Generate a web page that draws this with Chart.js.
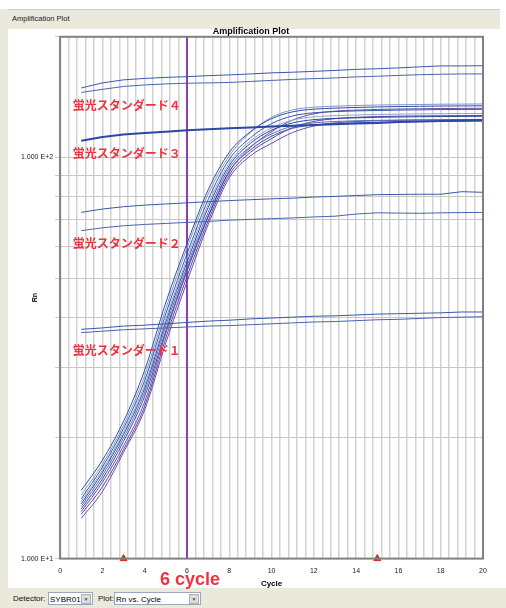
<!DOCTYPE html>
<html>
<head>
<meta charset="utf-8">
<script src="https://cdn.jsdelivr.net/npm/chart.js@4.4.0/dist/chart.umd.min.js"></script>
<style>
  body { margin: 0; width: 506px; height: 608px; position: relative; overflow: hidden; background: #fff;
         font-family: "Liberation Sans", Arial, sans-serif; }
  .beige { position: absolute; background: #ebe8dc; }
  #head { left: 3px; top: 9px; width: 497px; height: 19px; border-top: 1px solid #d0ccc0; }
  #head span { position: absolute; left: 9px; top: 4px; font-size: 7.5px; color: #222; }
  #leftStrip { left: 0; top: 9px; width: 8px; height: 590px; }
  #bottomBar { left: 0; top: 588px; width: 506px; height: 20px; }
  .lbl { position: absolute; top: 6px; font-size: 8px; color: #111; }
  .box { position: absolute; top: 4px; height: 13px; background: #fff; border: 1px solid #9aa8bc; font-size: 8px; line-height: 13px; padding-left: 1px; box-sizing: border-box; }
  .btn { position: absolute; right: 1px; top: 1px; width: 10px; height: 10px; background: #dcdcdc; border: 1px solid #b0b0b0; box-sizing: border-box; font-size: 5px; line-height: 8px; text-align: center; color: #555; }
  canvas { position: absolute; left: 0; top: 0; z-index: 2; }
</style>
</head>
<body>
<div id="head" class="beige"><span>Amplification Plot</span></div>
<div id="leftStrip" class="beige"></div>
<div id="bottomBar" class="beige">
  <span class="lbl" style="left:13px">Detector:</span>
  <div class="box" style="left:48px;width:45px">SYBR01<div class="btn">&#9660;</div></div>
  <span class="lbl" style="left:98px">Plot:</span>
  <div class="box" style="left:114px;width:87px">Rn vs. Cycle<div class="btn">&#9660;</div></div>
</div>
<canvas id="myChart" width="506" height="608"></canvas>
<script>
// cycles 1..20
var cycles = [1, 2, 3, 4, 5, 6, 7, 8, 9, 10, 11, 12, 13, 14, 15, 16, 17, 18, 19, 20];

// fluorescent standards (flat lines)
var std4a = [149.1, 153.5, 156.2, 157.5, 158.4, 159.1, 160, 160.7, 161.6, 162.6, 163.2, 164, 164.9, 165.9, 166.5, 167.3, 168.3, 169.2, 169.2, 169.4];
var std4b = [145.3, 147.9, 150.4, 151.7, 152.6, 153.2, 153.5, 153.9, 154.8, 155.7, 156.6, 157.3, 157.9, 158.9, 159.5, 160.2, 160.9, 161.3, 161.6, 161.6];
var std3 = [110.1, 112.5, 114.1, 115.1, 115.9, 116.9, 117.6, 118.3, 118.9, 119.5, 120, 120.5, 121, 121.6, 122, 122.6, 123, 123.3, 123.7, 124];
var std2a = [73.0, 74.4, 75.4, 76.1, 76.6, 77.1, 77.6, 78.1, 78.5, 78.9, 79.2, 79.7, 80.0, 80.4, 80.8, 80.9, 81.0, 81.0, 82.2, 81.9];
var std2b = [65.7, 66.8, 67.6, 68.1, 68.5, 68.9, 69.3, 69.8, 70.1, 70.4, 70.7, 71.1, 71.4, 72.3, 72.8, 72.7, 72.6, 72.8, 72.9, 73.0];
var std1a = [37.3, 37.6, 38.0, 38.2, 38.5, 38.8, 39.1, 39.3, 39.6, 39.8, 40.0, 40.2, 40.3, 40.5, 40.7, 40.8, 40.9, 41.0, 41.2, 41.2];
var std1b = [36.6, 36.9, 37.2, 37.4, 37.6, 37.8, 38.0, 38.1, 38.3, 38.5, 38.7, 38.9, 39.0, 39.2, 39.4, 39.5, 39.7, 39.9, 40.0, 40.1];

// amplification curves (samples)
var ampA = [14.8, 17.6, 22.0, 29.5, 43.5, 61, 83, 103, 116, 125, 130, 132, 132.8, 133.3, 133.7, 134, 134.2, 134.4, 134.5, 134.6];
var ampB = [14.4, 17.2, 21.5, 28.6, 42.0, 59.5, 81, 101, 115.5, 126, 131.5, 133.5, 134.3, 134.8, 135.2, 135.4, 135.6, 135.8, 135.9, 136];
var ampC = [14.1, 16.9, 21.1, 27.8, 40.8, 57.5, 78.5, 99, 112, 121.5, 127, 129.3, 130.2, 130.7, 131, 131.3, 131.5, 131.7, 131.8, 131.9];
var ampD = [13.9, 16.6, 20.7, 27.1, 39.6, 56, 76.5, 97, 110, 118.5, 124, 126.3, 127.2, 127.7, 128, 128.3, 128.5, 128.6, 128.7, 128.8];
var ampE = [13.7, 16.4, 20.4, 26.6, 38.9, 54.8, 75, 95.5, 108.5, 117, 122, 124.3, 125.2, 125.6, 126, 126.2, 126.4, 126.5, 126.6, 126.7];
var ampF = [13.5, 16.1, 20.0, 26.0, 38.0, 53.5, 73, 94, 106.5, 114.5, 119.8, 122, 123, 123.5, 123.8, 124, 124.2, 124.3, 124.4, 124.5];
var ampG = [13.3, 15.8, 19.6, 25.4, 37.0, 52.5, 71.5, 92.5, 104.5, 113, 118.3, 120.6, 121.5, 122, 122.4, 122.7, 122.9, 123, 123.1, 123.2];
var ampH = [13.1, 15.5, 19.1, 24.6, 36.5, 52, 71, 92, 106, 116, 124, 128.5, 130.5, 131.3, 131.8, 132.1, 132.3, 132.5, 132.6, 132.7];
var ampI = [12.9, 15.1, 18.7, 24.0, 35.5, 50.5, 69.5, 90.5, 103, 111.5, 118.8, 123, 125, 126, 126.5, 126.8, 127, 127.1, 127.2, 127.3];
var ampJ = [12.6, 14.7, 18.4, 23.5, 34.5, 49, 68, 89, 101, 108.5, 115.5, 119.8, 122, 123, 123.5, 123.8, 124, 124.1, 124.2, 124.3];

var ampSeries = [ampA, ampB, ampC, ampD, ampE, ampF, ampG, ampH, ampI, ampJ];
var ampColors = ['#2f4fa6', '#7f97c8', '#3556aa', '#8ea2cf', '#2c48a0', '#5570b8', '#3a50a5', '#6a4cb0', '#5a44a8', '#7048b0'];

// the cycle marker and baseline markers
var markerCycle = 6;
var baselineCycles = [3, 15];

// y axis ticks (log)
var yTicks = [10, 20, 30, 40, 50, 60, 70, 80, 90, 100, 200];
var yMin = 10;
var yMax = 200;

// red labels: text, cycle, Rn
var labelTexts = ['蛍光スタンダード４', '蛍光スタンダード３', '蛍光スタンダード２', '蛍光スタンダード１'];
var labelCycles = [0.6, 0.6, 0.6, 0.6];
var labelRn = [134.5, 102.6, 61.2, 33.1];

function toPoints(arr) {
  return arr.map(function (v, i) { return { x: cycles[i], y: v }; });
}

var datasets = [];
// standards
[std4a, std4b, std2a, std2b, std1a, std1b].forEach(function (s, i) {
  datasets.push({
    data: toPoints(s),
    borderColor: i % 2 === 0 ? '#3d57aa' : '#4a62b2',
    borderWidth: 1,
    pointRadius: 0,
    tension: 0
  });
});
datasets.push({ data: toPoints(std3), borderColor: '#2a48a6', borderWidth: 2, pointRadius: 0, tension: 0 });

ampSeries.forEach(function (s, i) {
  datasets.push({
    data: toPoints(s),
    borderColor: ampColors[i],
    borderWidth: 1,
    pointRadius: 0,
    cubicInterpolationMode: 'monotone'
  });
});

// purple cycle line
datasets.push({
  data: [{ x: markerCycle, y: yMin }, { x: markerCycle, y: yMax }],
  borderColor: '#8a3db5',
  borderWidth: 2,
  pointRadius: 0
});

// baseline markers on the x axis
datasets.push({
  type: 'scatter',
  data: baselineCycles.map(function (c) { return { x: c, y: yMin }; }),
  pointStyle: 'triangle',
  pointRadius: 4,
  backgroundColor: '#e02020',
  borderColor: '#e02020',
  borderWidth: 1,
  clip: false
});

// text overlays and frame
var overlay = {
  id: 'overlay',
  afterDatasetsDraw: function (chart) {
    var ctx = chart.ctx;
    var a = chart.chartArea;
    var xs = chart.scales.x;
    var ys = chart.scales.y;
    ctx.save();
    // frame
    ctx.strokeStyle = '#808080';
    ctx.lineWidth = 2;
    ctx.strokeRect(a.left, a.top, a.right - a.left, a.bottom - a.top);

    // red labels
    ctx.fillStyle = '#ee3340';
    ctx.font = 'bold 12px "Noto Sans CJK JP"';
    ctx.textBaseline = 'middle';
    ctx.textAlign = 'left';
    labelTexts.forEach(function (t, i) {
      ctx.fillText(t, xs.getPixelForValue(labelCycles[i]), ys.getPixelForValue(labelRn[i]));
    });

    // "6 cycle"
    ctx.font = 'bold 18px "Liberation Sans", Arial, sans-serif';
    ctx.textAlign = 'center';
    ctx.fillText(markerCycle + ' cycle', xs.getPixelForValue(markerCycle) + 3, a.bottom + 21);

    // x axis title
    ctx.fillStyle = '#000';
    ctx.font = 'bold 8px "Liberation Sans", Arial, sans-serif';
    ctx.fillText('Cycle', (a.left + a.right) / 2, a.bottom + 25);

    // Rn axis title
    ctx.font = 'bold 7px "Liberation Sans", Arial, sans-serif';
    ctx.translate(a.left - 25, (a.top + a.bottom) / 2);
    ctx.rotate(-Math.PI / 2);
    ctx.fillText('Rn', 0, 0);
    ctx.restore();
  }
};

var ctx = document.getElementById('myChart').getContext('2d');
var chart = new Chart(ctx, {
  type: 'line',
  data: { datasets: datasets },
  options: {
    responsive: false,
    animation: false,
    devicePixelRatio: 1,
    layout: { padding: { left: 19, right: 23, top: 26, bottom: 25 } },
    plugins: {
      legend: { display: false },
      tooltip: { enabled: false },
      title: {
        display: true,
        text: 'Amplification Plot',
        color: '#000',
        font: { size: 9, weight: 'bold', family: '"Liberation Sans", Arial, sans-serif', lineHeight: 1.2 },
        padding: { top: 0, bottom: 0 }
      }
    },
    scales: {
      x: {
        type: 'linear',
        min: 0,
        max: 20,
        grid: { color: '#d2d2d2', lineWidth: 1.5, drawTicks: false },
        border: { display: false },
        ticks: {
          stepSize: 0.4,
          autoSkip: false,
          maxRotation: 0,
          padding: 8,
          color: '#222',
          font: { size: 7, family: '"Liberation Sans", Arial, sans-serif' },
          callback: function (v) {
            var r = Math.round(v);
            return (Math.abs(v - r) < 1e-6 && r % 2 === 0) ? String(r) : '';
          }
        }
      },
      y: {
        type: 'logarithmic',
        min: yMin,
        max: yMax,
        afterBuildTicks: function (scale) {
          scale.ticks = yTicks.map(function (v) { return { value: v }; });
        },
        grid: { color: '#c8c8c8', lineWidth: 1, tickLength: 5 },
        border: { display: false },
        ticks: {
          autoSkip: false,
          padding: 2,
          color: '#222',
          font: { size: 7, family: '"Liberation Sans", Arial, sans-serif' },
          callback: function (v) {
            if (v === 10) return '1.000 E+1';
            if (v === 100) return '1.000 E+2';
            return '';
          }
        }
      }
    }
  },
  plugins: [overlay]
});
</script>
</body>
</html>
